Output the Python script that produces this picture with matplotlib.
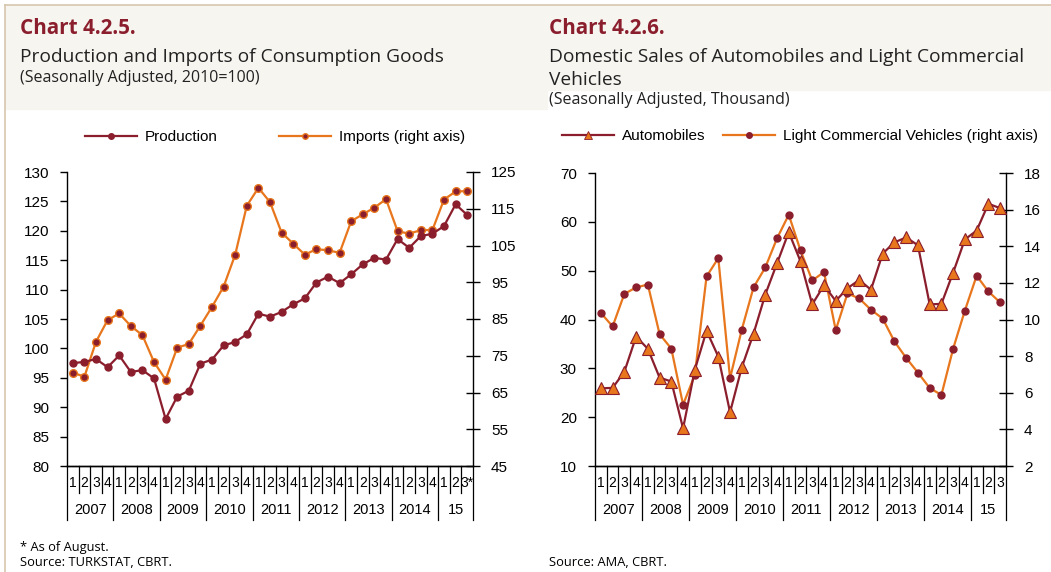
import matplotlib.pyplot as plt
import matplotlib.patches as mpatches
from matplotlib.lines import Line2D
import numpy as np

# quarters 2007Q1 - 2015Q3
quarters = ['1', '2', '3', '4'] * 8 + ['1', '2', '3']
years = ['2007', '2008', '2009', '2010', '2011', '2012', '2013', '2014', '15']

# Chart 4.2.5 (2010=100)
production = [97.5, 97.7, 98.2, 96.8, 98.8, 96.0, 96.3, 94.9, 88.0, 91.8,
              92.8, 97.4, 98.1, 100.5, 101.1, 102.4, 105.9, 105.4, 106.2, 107.5,
              108.5, 111.2, 112.2, 111.1, 112.6, 114.3, 115.4, 115.1, 118.6, 117.1,
              119.1, 119.5, 120.8, 124.5, 122.7]
imports = [70.4, 69.3, 78.8, 84.7, 86.5, 83.1, 80.6, 73.3, 68.5, 77.2,
           78.2, 83.2, 88.3, 93.8, 102.5, 115.8, 120.7, 116.8, 108.5, 105.5,
           102.5, 104.0, 103.7, 103.0, 111.6, 113.5, 115.3, 117.6, 108.9, 108.2,
           109.2, 109.2, 117.5, 119.7, 119.8]

# Chart 4.2.6 (thousand)
automobiles = [25.9, 26.0, 29.3, 36.5, 34.0, 28.1, 27.3, 17.7, 29.7, 37.7,
               32.4, 21.0, 30.2, 37.1, 45.1, 51.5, 57.9, 51.9, 43.1, 47.0,
               43.8, 46.4, 48.1, 46.1, 53.5, 55.8, 56.8, 55.2, 43.1, 43.2,
               49.6, 56.4, 58.2, 63.7, 62.8]
lcv = [10.36, 9.62, 11.40, 11.75, 11.91, 9.20, 8.41, 5.35, 6.97, 12.35,
       13.35, 6.79, 9.45, 11.75, 12.84, 14.43, 15.72, 13.77, 12.13, 12.59,
       9.42, 11.42, 11.15, 10.53, 10.05, 8.80, 7.90, 7.10, 6.26, 5.88,
       8.41, 10.49, 12.39, 11.53, 10.93]

RED = '#8b1e2d'
ORANGE = '#e8761c'
TAN = '#d8c6ad'
BEIGE = '#f7f5f0'

W, H = 1051, 572
fig = plt.figure(figsize=(W / 100, H / 100), dpi=100)
fig.patch.set_facecolor('white')

def fx(px):
    return px / W

def fy(py):
    return 1 - py / H

# header backgrounds and border lines
fig.patches.append(mpatches.Rectangle((fx(5), fy(109)), fx(542), 104 / H,
                                      transform=fig.transFigure, color=BEIGE, zorder=0))
fig.patches.append(mpatches.Rectangle((fx(547), fy(90)), fx(504), 85 / H,
                                      transform=fig.transFigure, color=BEIGE, zorder=0))
fig.add_artist(Line2D([fx(5), 1], [fy(5), fy(5)], color=TAN, lw=1.2))
fig.add_artist(Line2D([fx(5), fx(5)], [0, fy(5)], color=TAN, lw=1.2))

tfont = 'Open Sans'
TXT = '#222222'
fig.text(fx(20), fy(28), 'Chart 4.2.5.', color=RED, fontsize=14.9, fontweight='bold',
         family=tfont, va='center')
fig.text(fx(20), fy(57), 'Production and Imports of Consumption Goods', fontsize=13.8,
         family=tfont, va='center', color=TXT)
fig.text(fx(20), fy(78), '(Seasonally Adjusted, 2010=100)', fontsize=11.5,
         family=tfont, va='center', color=TXT)

fig.text(fx(549), fy(28), 'Chart 4.2.6.', color=RED, fontsize=14.9, fontweight='bold',
         family=tfont, va='center')
fig.text(fx(549), fy(57), 'Domestic Sales of Automobiles and Light Commercial', fontsize=13.8,
         family=tfont, va='center', color=TXT)
fig.text(fx(549), fy(80), 'Vehicles', fontsize=13.8, family=tfont, va='center', color=TXT)
fig.text(fx(549), fy(100), '(Seasonally Adjusted, Thousand)', fontsize=11.5,
         family=tfont, va='center', color=TXT)

fig.text(fx(20), fy(548), '* As of August.', fontsize=9.3, family=tfont, va='center')
fig.text(fx(20), fy(563), 'Source: TURKSTAT, CBRT.', fontsize=9.3, family=tfont, va='center')
fig.text(fx(549), fy(563), 'Source: AMA, CBRT.', fontsize=9.3, family=tfont, va='center')

x = np.arange(len(quarters))
afont = 'Liberation Sans'


def setup_xaxis(ax, star=False):
    ax.set_xlim(-0.5, len(quarters) - 0.5)
    ax.set_xticks([])
    tr = ax.get_xaxis_transform()
    h = ax.get_position().height * H
    for i, q in enumerate(quarters):
        lab = q + '*' if (star and i == len(quarters) - 1) else q
        ax.text(i, -17 / h, lab, transform=tr, ha='center', va='center',
                fontsize=10, family=afont, clip_on=False)
    for b in np.arange(-0.5, len(quarters), 1.0):
        is_year = (b + 0.5) % 4 == 0 or b == len(quarters) - 0.5
        y1 = -54 / h if is_year else -27 / h
        ax.plot([b, b], [0, y1], transform=tr, color='black', lw=0.9, clip_on=False)
    starts = list(range(0, len(quarters), 4))
    for k, yr in enumerate(years):
        s = starts[k]
        e = min(s + 4, len(quarters))
        ax.text((s + e - 1) / 2, -44 / h, yr, transform=tr, ha='center', va='center',
                fontsize=10.5, family=afont, clip_on=False)


def style_axes(ax, ax2):
    for a in (ax, ax2):
        a.spines['top'].set_visible(False)
        a.spines['left'].set_linewidth(1.0)
        a.spines['right'].set_linewidth(1.0)
        a.spines['bottom'].set_linewidth(1.0)
    ax.spines['right'].set_visible(False)
    ax2.spines['left'].set_visible(False)
    ax.tick_params(axis='y', direction='out', length=5, width=1.0, pad=8, labelsize=11)
    ax2.tick_params(axis='y', direction='inout', length=10, width=1.0, pad=8, labelsize=11)
    for lab in ax.get_yticklabels() + ax2.get_yticklabels():
        lab.set_family(afont)


# ---- left chart ----
ax1 = fig.add_axes([fx(67), fy(466), fx(406), 294 / H])
ax1b = ax1.twinx()
ax1.plot(x, production, color=RED, lw=1.6, marker='o', ms=5, mfc=RED, mec=RED, zorder=3)
ax1b.plot(x, imports, color=ORANGE, lw=1.6, marker='o', ms=5.5, mfc=RED, mec=ORANGE)
ax1.set_ylim(80, 130)
ax1.set_yticks(np.arange(80, 131, 5))
ax1b.set_ylim(45, 125)
ax1b.set_yticks(np.arange(45, 126, 10))
ax1.set_zorder(ax1b.get_zorder() + 1)
ax1.patch.set_visible(False)
setup_xaxis(ax1, star=True)
ax1b.set_xlim(ax1.get_xlim())
style_axes(ax1, ax1b)

h1 = [Line2D([], [], color=RED, lw=1.6, marker='o', ms=4, mfc=RED, mec=RED),
      Line2D([], [], color=ORANGE, lw=1.6, marker='o', ms=4, mfc=RED, mec=ORANGE)]
fig.legend(h1, ['Production', 'Imports (right axis)'], loc='center', ncol=2,
           bbox_to_anchor=(fx(275), fy(137)), frameon=False, handlelength=3.4,
           columnspacing=4.0, handletextpad=0.5, prop={'family': afont, 'size': 11})

# ---- right chart ----
ax2 = fig.add_axes([fx(595), fy(466), fx(411), 293 / H])
ax2b = ax2.twinx()
ax2.plot(x, automobiles, color=RED, lw=1.6, marker='^', ms=8, mfc=ORANGE, mec=RED,
         mew=0.8, zorder=3)
ax2b.plot(x, lcv, color=ORANGE, lw=1.6, marker='o', ms=5, mfc=RED, mec=RED)
ax2.set_ylim(10, 70)
ax2.set_yticks(np.arange(10, 71, 10))
ax2b.set_ylim(2, 18)
ax2b.set_yticks(np.arange(2, 19, 2))
ax2.set_zorder(ax2b.get_zorder() + 1)
ax2.patch.set_visible(False)
setup_xaxis(ax2)
ax2b.set_xlim(ax2.get_xlim())
style_axes(ax2, ax2b)

h2 = [Line2D([], [], color=RED, lw=1.6, marker='^', ms=6, mfc=ORANGE, mec=RED, mew=0.6),
      Line2D([], [], color=ORANGE, lw=1.6, marker='o', ms=4, mfc=RED, mec=RED)]
fig.legend(h2, ['Automobiles', 'Light Commercial Vehicles (right axis)'], loc='center',
           ncol=2, bbox_to_anchor=(fx(800), fy(136)), frameon=False, handlelength=3.4,
           columnspacing=1.2, handletextpad=0.5, prop={'family': afont, 'size': 11})

fig.savefig('out.png', dpi=100)
